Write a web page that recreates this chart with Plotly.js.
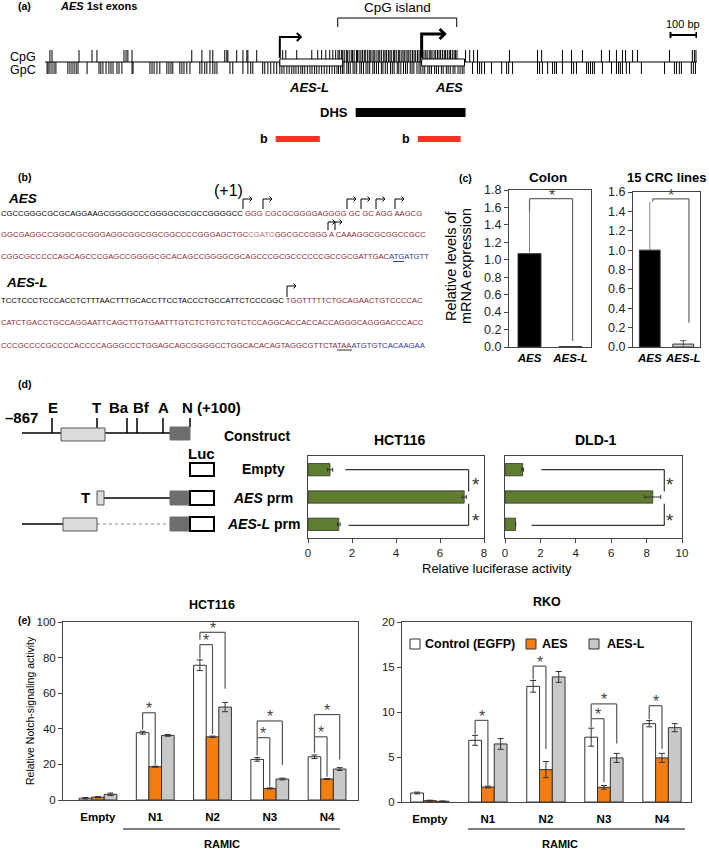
<!DOCTYPE html>
<html>
<head>
<meta charset="utf-8">
<script src="https://cdn.plot.ly/plotly-3.0.1.min.js"></script>
<style>body{margin:0;background:#fff}#fig{width:709px;height:849px}</style>
</head>
<body>
<div id="fig"></div>
<script>
const FONT = 'Liberation Sans, Arial, sans-serif';
const W = 709, H = 849;
const fx = px => px / W;
const fy = py => 1 - py / H;

// (a) CpG / GpC sites along the AES locus, bp from the left end
const cpgPos = [19, 27, 131, 181, 200, 304, 312, 319, 335, 565, 604, 635, 646, 692, 700, 704, 738, 762, 777, 781, 815,
  915, 927, 969, 1027, 1050, 1065, 1081, 1096, 1108, 1119,
  1128, 1133, 1141, 1146, 1152, 1160, 1164, 1171, 1179, 1184, 1190, 1199, 1203, 1209, 1216, 1222, 1229, 1233, 1241,
  1248, 1252, 1259, 1266, 1270, 1278, 1285, 1289, 1296, 1304, 1309, 1315, 1322, 1328, 1333, 1341, 1346, 1352, 1360,
  1364, 1371, 1378, 1383, 1390, 1397, 1401, 1408, 1415, 1421, 1427, 1434, 1440, 1446, 1453, 1459, 1466, 1471, 1479,
  1485, 1490, 1498, 1504, 1511, 1517, 1523, 1530, 1537, 1542, 1549, 1556, 1561, 1568, 1575, 1580, 1586,
  1619, 1635, 1650, 1665, 1788, 1896, 1912, 1992, 2027, 2069, 2142, 2173, 2200, 2223, 2235, 2262, 2281, 2404, 2492, 2500, 2506];
const gpcPos = [8, 12, 19, 27, 35, 42, 88, 96, 104, 112, 120, 127, 162, 208, 215, 223, 235, 246, 254, 262, 277, 285, 296,
  335, 339, 404, 412, 420, 431, 442, 469, 477, 485, 492, 519, 527, 535, 546, 558, 596, 604, 615, 623, 635, 646, 654, 662,
  712, 723, 762, 781, 792, 800, 838, 846, 858, 869, 881, 892, 904, 912, 920, 931, 940, 950, 958, 966, 975, 985, 992,
  1000, 1010, 1020, 1028, 1038, 1046, 1055, 1065, 1075, 1085, 1095, 1105, 1115,
  1124, 1130, 1138, 1145, 1151, 1162, 1168, 1175, 1186, 1193, 1200, 1212, 1218, 1226, 1236, 1243, 1250, 1262, 1268,
  1276, 1284, 1295, 1301, 1310, 1318, 1330, 1337, 1344, 1356, 1362, 1370, 1380, 1388, 1395, 1406, 1413, 1420, 1432,
  1440, 1447, 1455, 1462, 1474, 1481, 1488, 1500, 1507, 1515, 1526, 1533, 1545, 1552, 1560, 1571, 1578, 1590, 1598,
  1606, 1613, 1646, 1665, 1673, 1681, 1692, 1719, 1758, 1777, 1785, 1800, 1896, 1904, 1915, 1935, 1954, 1962, 1969,
  1992, 2027, 2035, 2046, 2085, 2092, 2100, 2108, 2115, 2146, 2181, 2200, 2208, 2215, 2223, 2238, 2250, 2296, 2385,
  2423, 2431, 2442, 2450, 2488, 2496, 2504];
const locusLen = 2510;
const exonNames = ['AES-L', 'AES'];
const exonStart = [904, 1450];
const exonEnd = [1146, 1615];
const cpgIsland = [1127, 1585];
const dhsRegion = [1196, 1619];
const probeStart = [888, 1435];
const probeEnd = [1058, 1600];

// (c) relative mRNA levels
const mrnaCats = ['AES', 'AES-L'];
const colonMean = [1.07, 0.004];
const colonErrUp = [0.48, 0];
const crcMean = [1.0, 0.03];
const crcErrUp = [0.5, 0.035];

// (d) luciferase reporter
const constructs = ['Empty', 'AES prm', 'AES-L prm'];
const hctLuc = [1.0, 7.1, 1.4];
const hctLucErr = [0.12, 0.1, 0.06];
const dldLuc = [1.0, 8.35, 0.6];
const dldLucErr = [0.05, 0.45, 0];

// (e) Notch signalling
const notchCats = ['Empty', 'N1', 'N2', 'N3', 'N4'];
const seriesNames = ['Control (EGFP)', 'AES', 'AES-L'];
const hctCtrl = [1.0, 37.8, 75.7, 22.8, 24.3];
const hctCtrlErr = [0.4, 0.8, 3.0, 1.0, 1.0];
const hctAes = [1.6, 18.7, 35.5, 6.5, 11.8];
const hctAesErr = [0.3, 0.3, 0.4, 0.3, 0.3];
const hctAesL = [3.2, 36.3, 52.2, 11.8, 17.4];
const hctAesLErr = [0.7, 0.5, 2.6, 0.5, 0.8];
const rkoCtrl = [1.0, 6.85, 12.85, 7.2, 8.7];
const rkoCtrlErr = [0.1, 0.55, 0.65, 1.0, 0.35];
const rkoAes = [0.15, 1.67, 3.6, 1.63, 4.9];
const rkoAesErr = [0.05, 0.1, 0.9, 0.2, 0.5];
const rkoAesL = [0.08, 6.45, 13.9, 4.9, 8.26];
const rkoAesLErr = [0.03, 0.6, 0.6, 0.5, 0.45];

// significance brackets: [group, barA, barB, bracket level, end of leg A, end of leg B]
const hctSig = [[1, 0, 1, 49, 39.6, 19.6], [2, 0, 1, 87.3, 79.5, 37], [2, 0, 2, 94.2, 90, 62.5],
  [3, 0, 1, 35, 25, 7.5], [3, 0, 2, 44.4, 35, 19.6], [4, 0, 1, 35.5, 26.5, 13], [4, 0, 2, 48, 35.5, 22.7]];
const rkoSig = [[1, 0, 1, 9.07, 7.5, 1.85], [2, 0, 1, 15.1, 13.6, 5.9], [3, 0, 1, 9.26, 8.3, 2.2],
  [3, 0, 2, 10.9, 9.26, 6.5], [4, 0, 1, 10.7, 9.2, 5.9]];

const seriesColors = ['#ffffff', '#f47d12', '#c8c8c8'];
const GREEN = '#5e7d30';
const RED_SEQ = '#8b2a30', PINK_SEQ = '#b8707a', BLUE_SEQ = '#2a3c96';
const BARGAP = 0.34;

const shapes = [];
const ann = [];

function pline(x0, y0, x1, y1, color, width, dash) {
  shapes.push({type: 'line', xref: 'paper', yref: 'paper', x0: fx(x0), y0: fy(y0), x1: fx(x1), y1: fy(y1),
    line: {color: color, width: width, dash: dash || 'solid'}});
}
function prect(x0, y0, x1, y1, fill, lc, lw) {
  shapes.push({type: 'rect', xref: 'paper', yref: 'paper', x0: fx(x0), y0: fy(y1), x1: fx(x1), y1: fy(y0),
    fillcolor: fill, line: {color: lc, width: lw}, layer: 'above'});
}
function ptext(x, y, s, size, opts) {
  ann.push(Object.assign({xref: 'paper', yref: 'paper', x: fx(x), y: fy(y), text: s, showarrow: false,
    font: {family: FONT, size: size, color: '#000'}, xanchor: 'center', yanchor: 'middle'}, opts || {}));
}
function bentArrow(x, yb, yt, len, head, w) {
  shapes.push({type: 'path', xref: 'paper', yref: 'paper', line: {color: '#000', width: w},
    path: `M${fx(x)},${fy(yb)} L${fx(x)},${fy(yt)} L${fx(x + len)},${fy(yt)}`});
  shapes.push({type: 'path', xref: 'paper', yref: 'paper', line: {color: '#000', width: w},
    path: `M${fx(x + len - head)},${fy(yt - head)} L${fx(x + len)},${fy(yt)} L${fx(x + len - head)},${fy(yt + head)}`});
}
const bpPx = bp => 45 + bp * 652 / locusLen;

// ---------- (a)
ptext(16, 6, '<b>(a)</b>', 10.5, {xanchor: 'left'});
ptext(58, 6, '<b><i>AES</i> 1st exons</b>', 11, {xanchor: 'left'});
ptext(8, 57, 'CpG', 12.5, {xanchor: 'left'});
ptext(8, 70, 'GpC', 12.5, {xanchor: 'left'});
shapes.push({type: 'line', xref: 'x', yref: 'y', x0: 0, x1: locusLen, y0: 0, y1: 0, line: {color: '#000', width: 1}});
exonNames.forEach((n, i) => {
  shapes.push({type: 'rect', xref: 'x', yref: 'y', x0: exonStart[i], x1: exonEnd[i], y0: -0.33, y1: 0.25,
    fillcolor: '#fff', line: {color: '#000', width: 1}, layer: 'above'});
  ptext((bpPx(exonStart[i]) + bpPx(exonEnd[i])) / 2 + (i === 0 ? -2 : 6), 87, '<b><i>' + n + '</i></b>', 13);
});
bentArrow(bpPx(exonStart[0]), 58, 37, 21, 4, 2);
bentArrow(bpPx(exonStart[1]), 58, 34, 23, 5, 3);
shapes.push({type: 'path', xref: 'x', yref: 'paper', line: {color: '#000', width: 1},
  path: `M${cpgIsland[0]},${fy(27)} L${cpgIsland[0]},${fy(18)} L${cpgIsland[1]},${fy(18)} L${cpgIsland[1]},${fy(27)}`});
ptext((bpPx(cpgIsland[0]) + bpPx(cpgIsland[1])) / 2, 8, 'CpG island', 13.5);
ptext(bpPx(2458), 24, '100 bp', 11);
shapes.push({type: 'path', xref: 'x', yref: 'paper', line: {color: '#000', width: 2},
  path: `M2408,${fy(32)} L2408,${fy(38)} M2408,${fy(35)} L2508,${fy(35)} M2508,${fy(32)} L2508,${fy(38)}`});
shapes.push({type: 'rect', xref: 'x', yref: 'paper', x0: dhsRegion[0], x1: dhsRegion[1], y0: fy(117), y1: fy(108),
  fillcolor: '#000', line: {width: 0}});
ptext(bpPx(dhsRegion[0]) - 6, 112, '<b>DHS</b>', 13, {xanchor: 'right'});
probeStart.forEach((s, i) => {
  shapes.push({type: 'rect', xref: 'x', yref: 'paper', x0: s, x1: probeEnd[i], y0: fy(142), y1: fy(136),
    fillcolor: '#ee3524', line: {width: 0}});
  ptext(bpPx(s) - 6, 139, '<b>b</b>', 12.5, {xanchor: 'right'});
});

// ---------- (b)
ptext(16, 177, '<b>(b)</b>', 10.5, {xanchor: 'left'});
ptext(6, 198, '<b><i>AES</i></b>', 13.5, {xanchor: 'left'});
ptext(4, 283, '<b><i>AES-L</i></b>', 13.5, {xanchor: 'left'});
const sp = (c, s) => `<span style="color:${c}">${s}</span>`;
const seqLines = [
  [213, sp('#000000', 'CGCCGGGCGCGCAGGAAGCGGGGCCCGGGGCGCGCCGGGGCC') + sp(RED_SEQ, ' GGG CGCGCGGGGAGGGG GC GC AGG AAGCG')],
  [235, sp(RED_SEQ, 'GGCGAGGCCGGGCGCGGGAGGCGGCGGCGGCCCCGGGAGCTGC') + sp(PINK_SEQ, 'CGATC') + sp(RED_SEQ, 'GGCGCCGGG A CAAAGGCGCGGCCGCC')],
  [257, sp(RED_SEQ, 'CGGCGCCCCCAGCAGCCCGAGCCGGGGCGCACAGCCGGGGCGCAGCCCGCGCCCCCCGCCGCGATTGAC') + sp(BLUE_SEQ, 'ATGATGTT')],
  [300, sp('#000000', 'TCCTCCCTCCCACCTCTTTAACTTTGCACCTTCCTACCCTGCCATTCTCCCGGC') + sp(RED_SEQ, ' TGGTTTTTCTGCAGAACTGTCCCCAC')],
  [322, sp(RED_SEQ, 'CATCTGACCTGCCAGGAATTCAGCTTGTGAATTTGTCTCTGTCTGTCTCCAGGCACCACCACCAGGGCAGGGACCCACC')],
  [345, sp(RED_SEQ, 'CCCGCCCCGCCCCACCCCAGGGCCCTGGAGCAGCGGGGCCTGGCACACAGTAGGCGTTCTATAA') + sp(BLUE_SEQ, 'ATGTGTCACAAGAA')]
];
seqLines.forEach(([y, s]) => ptext(-1, y, s, 7.7, {xanchor: 'left'}));
ptext(228, 190, '(+1)', 16);
[243, 263, 347, 361, 376, 395].forEach(x => bentArrow(x, 209, 199, 9, 2.5, 1));
[328, 335].forEach(x => bentArrow(x, 230, 222, 7, 2.5, 1));
bentArrow(287, 297, 286, 9, 2.5, 1);
pline(393, 261.5, 404, 261.5, BLUE_SEQ, 1);
pline(337, 350, 352, 350, '#333', 1);

// ---------- (c)
ptext(465, 178, '<b>(c)</b>', 10.5);
ptext(548, 178, '<b>Colon</b>', 13.5);
ptext(666, 178, '<b>15 CRC lines</b>', 13);
ptext(451, 266, 'Relative levels of', 14.5, {textangle: -90});
ptext(466, 266, 'mRNA expression', 14.5, {textangle: -90});

// ---------- (d)
ptext(16, 384, '<b>(d)</b>', 10.5, {xanchor: 'left'});
ptext(21, 418, '<b>–867</b>', 15);
const siteNames = ['E', 'T', 'Ba', 'Bf', 'A', 'N'];
const siteLabelX = [53, 96, 119, 141, 163, 188];
const siteTickX = [52, 97, 127, 137, 163, 190];
const siteTickEnd = [433, 428, 433, 433, 433, 427];
siteNames.forEach((n, i) => {
  ptext(siteLabelX[i], 407, '<b>' + n + '</b>', 15);
  pline(siteTickX[i], 418, siteTickX[i], siteTickEnd[i], '#000', 1.5);
});
ptext(219, 407, '<b>(+100)</b>', 15);
pline(22, 433, 170, 433, '#000', 1.5);
prect(61, 428, 105, 441, '#dcdcdc', '#555', 1);
prect(170, 427, 190, 440, '#6e6e6e', '#6e6e6e', 1);
ptext(257, 436, '<b>Construct</b>', 14);
ptext(201, 453, '<b>Luc</b>', 15);
ptext(85, 498, '<b>T</b>', 15);
pline(104, 498, 170, 498, '#000', 1.5);
prect(97, 491, 104, 505, '#dcdcdc', '#555', 1);
pline(22, 524, 63, 524, '#000', 1.5);
pline(97, 524, 170, 524, '#888', 1, 'dot');
prect(63, 518, 97, 531, '#dcdcdc', '#555', 1);
[[491, 505], [517, 531]].forEach(([a, b]) => prect(170, a, 190, b, '#6e6e6e', '#6e6e6e', 1));
[[463, 476], [491, 505], [517, 531]].forEach(([a, b]) => prect(190, a, 214, b, '#fff', '#000', 2));
const constructLabels = ['<b>Empty</b>', '<b><i>AES</i> prm</b>', '<b><i>AES-L</i> prm</b>'];
[469, 498, 524].forEach((y, i) => ptext(263, y, constructLabels[i], 14));
ptext(400, 440, '<b>HCT116</b>', 14);
ptext(595, 440, '<b>DLD-1</b>', 14);
ptext(497, 568, 'Relative luciferase activity', 13);
// luciferase significance brackets
[['x4', 'y4', 1.7, 1.85, 7.3, 7.62], ['x5', 'y5', 2.05, 1.5, 9.0, 9.35]].forEach(([xa, ya, s1, s2, v, ax]) => {
  const L = (x0, y0, x1, y1) => shapes.push({type: 'line', xref: xa, yref: ya, x0, y0, x1, y1, line: {color: '#333', width: 1.2}});
  L(s1, 0, v, 0); L(v, 0, v, 0.8); L(v, 1.25, v, 2.04); L(s2, 2.04, v, 2.04);
  ann.push({xref: xa, yref: ya, x: ax, y: 0.38, text: '*', showarrow: false, font: {family: FONT, size: 19, color: '#333'}, yshift: -4});
  ann.push({xref: xa, yref: ya, x: ax, y: 1.72, text: '*', showarrow: false, font: {family: FONT, size: 19, color: '#333'}, yshift: -4});
});

// ---------- (c) brackets
function segs(xa, ya, pts, color) {
  for (let i = 0; i < pts.length - 1; i++) {
    shapes.push({type: 'line', xref: xa, yref: ya, x0: pts[i][0], y0: pts[i][1], x1: pts[i + 1][0], y1: pts[i + 1][1],
      line: {color: color, width: 1.2}});
  }
}
segs('x2', 'y2', [[0, colonMean[0] + colonErrUp[0]], [0, 1.70], [1.05, 1.70], [1.05, 0.07]], '#666');
ann.push({xref: 'x2', yref: 'y2', x: 0.55, y: 1.70, text: '*', showarrow: false, font: {family: FONT, size: 16, color: '#444'}, yshift: 3});
segs('x3', 'y3', [[0.09, crcMean[0] + crcErrUp[0]], [0.09, 1.53], [1.17, 1.53], [1.17, 0.25]], '#666');
ann.push({xref: 'x3', yref: 'y3', x: 0.62, y: 1.53, text: '*', showarrow: false, font: {family: FONT, size: 16, color: '#444'}, yshift: 3});

// ---------- (e)
ptext(16, 620, '<b>(e)</b>', 10.5, {xanchor: 'left'});
ptext(212, 605, '<b>HCT116</b>', 12.5);
ptext(547, 602, '<b>RKO</b>', 12.5);
ptext(30, 711, 'Relative Notch-signaling activity', 10.5, {textangle: -90});
pline(123, 829, 340, 829, '#000', 1);
pline(468, 829, 685, 829, '#000', 1);
ptext(222, 844, '<b>RAMIC</b>', 11);
ptext(560, 844, '<b>RAMIC</b>', 11);
// legend for RKO
const legX = [410, 526, 589];
const legTextX = [423, 540, 605];
seriesNames.forEach((n, k) => {
  prect(legX[k], 639, legX[k] + 10, 649, seriesColors[k], '#333', 1);
  ptext(legTextX[k], 644, '<b>' + n + '</b>', 12.5, {xanchor: 'left'});
});

const slot = (1 - BARGAP) / 3;
function sigBrackets(list, xa, ya) {
  list.forEach(([g, a, b, top, legA, legB]) => {
    const xA = g + (a - 1) * slot, xB = g + (b - 1) * slot;
    segs(xa, ya, [[xA, legA], [xA, top], [xB, top], [xB, legB]], '#555');
    ann.push({xref: xa, yref: ya, x: (xA + xB) / 2, y: top, text: '*', showarrow: false,
      font: {family: FONT, size: 16, color: '#444'}, yshift: 4});
  });
}
sigBrackets(hctSig, 'x6', 'y6');
sigBrackets(rkoSig, 'x7', 'y7');

function groupTraces(sets, xa, ya) {
  return sets.map(([v, e], k) => ({
    type: 'bar', x: notchCats, y: v, name: seriesNames[k], xaxis: xa, yaxis: ya,
    marker: {color: seriesColors[k], line: {color: '#333', width: 1}},
    error_y: {type: 'data', array: e, color: '#333', thickness: 1, width: 3},
    showlegend: false, hoverinfo: 'skip'
  }));
}

const traces = [
  {type: 'scatter', mode: 'lines', xaxis: 'x', yaxis: 'y', hoverinfo: 'skip', showlegend: false,
    x: cpgPos.flatMap(p => [p, p, null]), y: cpgPos.flatMap(() => [0, 1, null]), line: {color: '#000', width: 1}},
  {type: 'scatter', mode: 'lines', xaxis: 'x', yaxis: 'y', hoverinfo: 'skip', showlegend: false,
    x: gpcPos.flatMap(p => [p, p, null]), y: gpcPos.flatMap(() => [-1, 0, null]), line: {color: '#000', width: 1}},
  {type: 'bar', x: mrnaCats, y: colonMean, xaxis: 'x2', yaxis: 'y2', width: 0.56, showlegend: false, hoverinfo: 'skip',
    marker: {color: ['#000', '#fff'], line: {color: '#333', width: 1}},
    error_y: {type: 'data', symmetric: false, array: colonErrUp, arrayminus: [0, 0], color: '#888', thickness: 1, width: 0}},
  {type: 'bar', x: mrnaCats, y: crcMean, xaxis: 'x3', yaxis: 'y3', width: 0.62, showlegend: false, hoverinfo: 'skip',
    marker: {color: ['#000', '#d6d6d6'], line: {color: '#333', width: 1}},
    error_y: {type: 'data', symmetric: false, array: [crcErrUp[0], 0], arrayminus: [0, 0], color: '#888', thickness: 1, width: 0}},
  {type: 'scatter', mode: 'markers', x: [mrnaCats[1]], y: [crcMean[1]], xaxis: 'x3', yaxis: 'y3', showlegend: false,
    hoverinfo: 'skip', marker: {size: 0.1, color: 'rgba(0,0,0,0)'},
    error_y: {type: 'data', array: [crcErrUp[1]], color: '#555', thickness: 1, width: 3}},
  {type: 'bar', orientation: 'h', y: constructs, x: hctLuc, xaxis: 'x4', yaxis: 'y4', width: 0.45, showlegend: false,
    hoverinfo: 'skip', marker: {color: GREEN, line: {color: '#333', width: 0.8}},
    error_x: {type: 'data', array: hctLucErr, color: '#333', thickness: 1, width: 2}},
  {type: 'bar', orientation: 'h', y: constructs, x: dldLuc, xaxis: 'x5', yaxis: 'y5', width: 0.45, showlegend: false,
    hoverinfo: 'skip', marker: {color: GREEN, line: {color: '#333', width: 0.8}},
    error_x: {type: 'data', array: dldLucErr, color: '#333', thickness: 1, width: 2}},
  ...groupTraces([[hctCtrl, hctCtrlErr], [hctAes, hctAesErr], [hctAesL, hctAesLErr]], 'x6', 'y6'),
  ...groupTraces([[rkoCtrl, rkoCtrlErr], [rkoAes, rkoAesErr], [rkoAesL, rkoAesLErr]], 'x7', 'y7')
];

const tf = {family: FONT, size: 11.5, color: '#222'};
const tfc = {family: FONT, size: 12.5, color: '#222'};
const frame = {showline: true, mirror: true, linecolor: '#444', linewidth: 1, showgrid: false, zeroline: false};
const hidden = {visible: false, showgrid: false, zeroline: false, fixedrange: true};

const layout = {
  width: W, height: H, margin: {l: 0, r: 0, t: 0, b: 0}, paper_bgcolor: '#fff', plot_bgcolor: 'rgba(0,0,0,0)',
  showlegend: false, barmode: 'group', bargap: BARGAP, bargroupgap: 0, hovermode: false,
  font: {family: FONT},
  xaxis: Object.assign({domain: [fx(45), fx(697)], range: [0, locusLen], anchor: 'y'}, hidden),
  yaxis: Object.assign({domain: [fy(74), fy(50)], range: [-1, 1], anchor: 'x'}, hidden),
  xaxis2: Object.assign({domain: [fx(509), fx(591)], anchor: 'y2', type: 'category', ticks: '',
    tickvals: mrnaCats, ticktext: mrnaCats.map(c => '<b><i>' + c + '</i></b>'),
    tickfont: {family: FONT, size: 11.5, color: '#000'}}, frame),
  yaxis2: Object.assign({domain: [fy(347), fy(190)], anchor: 'x2', range: [0, 1.8], dtick: 0.2, tickformat: '.1f',
    ticks: 'outside', ticklen: 4, tickcolor: '#444', tickfont: tfc}, frame),
  xaxis3: Object.assign({domain: [fx(633), fx(700)], anchor: 'y3', type: 'category', ticks: '',
    tickvals: mrnaCats, ticktext: mrnaCats.map(c => '<b><i>' + c + '</i></b>'),
    tickfont: {family: FONT, size: 11.5, color: '#000'}}, frame),
  yaxis3: Object.assign({domain: [fy(347), fy(192)], anchor: 'x3', range: [0, 1.6], dtick: 0.2, tickformat: '.1f',
    ticks: 'outside', ticklen: 4, tickcolor: '#444', tickfont: tfc}, frame),
  xaxis4: Object.assign({domain: [fx(308), fx(484)], anchor: 'y4', range: [0, 8], dtick: 2,
    ticks: 'outside', ticklen: 4, tickcolor: '#444', tickfont: tf}, frame),
  yaxis4: Object.assign({domain: [fy(538), fy(456)], anchor: 'x4', type: 'category', categoryorder: 'array',
    categoryarray: constructs, autorange: 'reversed', showticklabels: false, ticks: ''}, frame),
  xaxis5: Object.assign({domain: [fx(505), fx(682)], anchor: 'y5', range: [0, 10], dtick: 2,
    ticks: 'outside', ticklen: 4, tickcolor: '#444', tickfont: tf}, frame),
  yaxis5: Object.assign({domain: [fy(538), fy(456)], anchor: 'x5', type: 'category', categoryorder: 'array',
    categoryarray: constructs, autorange: 'reversed', showticklabels: false, ticks: ''}, frame),
  xaxis6: Object.assign({domain: [fx(63), fx(358)], anchor: 'y6', type: 'category', range: [-0.61, 4.54],
    ticks: 'outside', ticklen: 6, tickcolor: 'rgba(0,0,0,0)',
    tickvals: notchCats, ticktext: notchCats.map(c => '<b>' + c + '</b>'), tickfont: {family: FONT, size: 11.5, color: '#000'}}, frame),
  yaxis6: Object.assign({domain: [fy(800), fy(622)], anchor: 'x6', range: [0, 100], dtick: 20,
    ticks: 'outside', ticklen: 4, tickcolor: '#444', tickfont: tf}, frame),
  xaxis7: Object.assign({domain: [fx(402), fx(691)], anchor: 'y7', type: 'category', range: [-0.48, 4.5],
    ticks: 'outside', ticklen: 6, tickcolor: 'rgba(0,0,0,0)',
    tickvals: notchCats, ticktext: notchCats.map(c => '<b>' + c + '</b>'), tickfont: {family: FONT, size: 11.5, color: '#000'}}, frame),
  yaxis7: Object.assign({domain: [fy(802), fy(622)], anchor: 'x7', range: [0, 20], dtick: 5,
    ticks: 'outside', ticklen: 4, tickcolor: '#444', tickfont: tf}, frame),
  shapes: shapes,
  annotations: ann
};

Plotly.newPlot('fig', traces, layout, {staticPlot: true, displayModeBar: false});
</script>
</body>
</html>
